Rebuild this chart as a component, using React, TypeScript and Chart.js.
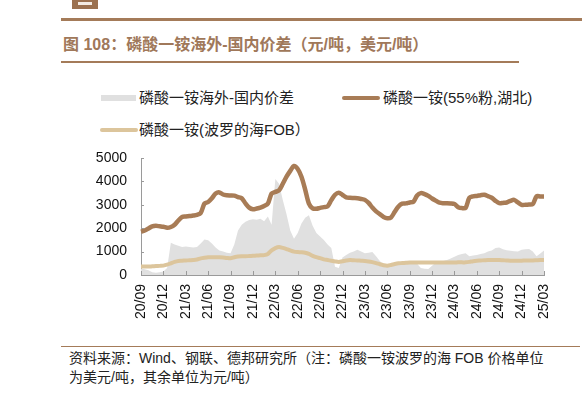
import React, { useEffect, useRef } from "react";
import { Chart, registerables } from "chart.js";

Chart.register(...registerables);

const months = [
  "20/09","20/10","20/11","20/12","21/01","21/02","21/03","21/04","21/05","21/06","21/07","21/08",
  "21/09","21/10","21/11","21/12","22/01","22/02","22/03","22/04","22/05","22/06","22/07","22/08",
  "22/09","22/10","22/11","22/12","23/01","23/02","23/03","23/04","23/05","23/06","23/07","23/08",
  "23/09","23/10","23/11","23/12","24/01","24/02","24/03","24/04","24/05","24/06","24/07","24/08",
  "24/09","24/10","24/11","24/12","25/01","25/02","25/03"
];

// 磷酸一铵(55%粉,湖北) 元/吨 (semi-monthly)
const domestic = [
  1850,1900,1990,2080,2100,2080,2060,2020,2050,2150,
  2330,2480,2500,2520,2540,2570,2650,3050,3120,3280,
  3480,3530,3440,3410,3400,3390,3330,3280,3060,2880,
  2810,2840,2880,2950,3050,3480,3550,3620,3900,4200,
  4450,4660,4530,4200,3650,3050,2850,2830,2870,2900,
  2930,3200,3430,3520,3420,3320,3300,3290,3280,3250,
  3210,3080,2880,2720,2600,2480,2430,2460,2700,2930,
  3050,3060,3100,3130,3400,3500,3460,3380,3270,3180,
  3090,3070,3070,3060,3030,2900,2860,2870,3300,3360,
  3380,3410,3430,3370,3300,3170,3070,3080,3100,3170,
  3210,3100,3000,3000,3010,3030,3360,3360,3360
];

// 磷酸一铵(波罗的海FOB) 美元/吨
const fob = [
  360,360,360,370,380,390,400,440,500,560,
  600,610,620,630,640,660,710,740,760,760,
  760,760,750,730,720,760,790,800,800,810,
  820,830,840,850,900,1050,1150,1200,1160,1110,
  1050,1000,980,970,950,900,820,760,720,670,
  640,610,580,560,590,620,640,630,620,610,
  600,580,550,510,460,420,400,430,470,500,
  510,520,530,530,530,530,530,530,530,530,
  530,530,530,530,530,540,540,540,560,590,
  610,620,630,640,640,640,640,630,620,610,
  610,610,610,620,620,620,630,640,640
];

// 磷酸一铵海外-国内价差 元/吨
const spread = [
  280,250,200,120,100,120,150,300,1380,1300,
  1250,1200,1220,1200,1180,1200,1350,1520,1480,1350,
  1180,1050,1000,950,930,1300,1900,2150,2280,2350,
  2380,2360,2400,2300,2500,2150,4100,3900,3200,2600,
  1900,1550,1800,2200,2450,2550,2100,1800,1650,1500,
  1300,1150,350,300,750,850,950,1000,1080,1000,
  930,950,980,800,600,450,420,450,500,560,
  570,570,560,540,480,300,270,260,400,520,
  560,600,640,700,780,850,900,930,800,830,
  860,900,930,1000,1050,1150,1180,1100,1060,1040,
  1020,1000,1080,1100,1110,1000,800,920,1050
];

const yTicks = [0, 1000, 2000, 3000, 4000, 5000];

const labels = months.flatMap((m, k) => (k < months.length - 1 ? [m, m] : [m]));

const BROWN = "#a87c56";
const TAN = "#dcc59c";
const GRAY = "#e0e0e0";
const AXIS = "#9a9a9a";
const TITLE = "#a0785a";
const FONT = '"Liberation Sans", Arial, "Noto Sans CJK SC", sans-serif';

const innerTicks = {
  id: "innerTicks",
  afterDraw(chart: any) {
    const { ctx, chartArea, scales } = chart;
    const x = scales.x;
    const y = scales.y;
    ctx.save();
    ctx.strokeStyle = AXIS;
    ctx.lineWidth = 1;
    yTicks.forEach((v) => {
      const py = Math.round(y.getPixelForValue(v)) + 0.5;
      ctx.beginPath();
      ctx.moveTo(chartArea.left, py);
      ctx.lineTo(chartArea.left + 3, py);
      ctx.stroke();
    });
    labels.forEach((_l, i) => {
      if (i % 6 !== 0) return;
      const px = Math.round(x.getPixelForValue(i)) + 0.5;
      ctx.beginPath();
      ctx.moveTo(px, chartArea.bottom);
      ctx.lineTo(px, chartArea.bottom - 4);
      ctx.stroke();
    });
    ctx.restore();
  },
};

const zeroPad = (s: any) => {
  s.paddingTop = 0;
  s.paddingBottom = 0;
  s.paddingLeft = 0;
  s.paddingRight = 0;
};

function ChartBox() {
  const ref = useRef<HTMLCanvasElement | null>(null);
  useEffect(() => {
    if (!ref.current) return;
    const chart = new Chart(ref.current, {
      type: "line",
      data: {
        labels,
        datasets: [
          {
            label: "磷酸一铵(55%粉,湖北)",
            data: domestic,
            borderColor: BROWN,
            borderWidth: 4.5,
            pointRadius: 0,
            tension: 0.3,
            fill: false,
            order: 1,
          },
          {
            label: "磷酸一铵(波罗的海FOB)",
            data: fob,
            borderColor: TAN,
            borderWidth: 4,
            pointRadius: 0,
            tension: 0.3,
            fill: false,
            order: 2,
          },
          {
            label: "磷酸一铵海外-国内价差",
            data: spread,
            borderWidth: 0,
            borderColor: GRAY,
            backgroundColor: GRAY,
            pointRadius: 0,
            tension: 0,
            fill: "origin",
            order: 3,
          },
        ],
      },
      options: {
        responsive: false,
        animation: false,
        events: [],
        layout: { padding: { top: 13, right: 16, left: 0, bottom: 0 } },
        plugins: { legend: { display: false }, tooltip: { enabled: false } },
        scales: {
          x: {
            type: "category",
            grid: { display: false, drawTicks: false },
            border: { display: true, color: AXIS, width: 1 },
            afterFit: (s: any) => {
              s.height = 60;
              zeroPad(s);
            },
            ticks: {
              autoSkip: false,
              maxRotation: 90,
              minRotation: 90,
              padding: 9,
              color: "#111",
              font: { family: FONT, size: 14 },
              callback: (_v: any, idx: number) => (idx % 6 === 0 ? labels[idx] : null),
            },
          },
          y: {
            min: 0,
            max: 5000,
            grid: { display: false, drawTicks: false },
            border: { display: true, color: AXIS, width: 1 },
            afterFit: (s: any) => {
              s.width = 51;
              zeroPad(s);
            },
            ticks: {
              stepSize: 1000,
              padding: 14,
              color: "#111",
              font: { family: FONT, size: 14 },
              callback: (v: any) => String(v),
            },
          },
        },
      },
      plugins: [innerTicks],
    });
    return () => chart.destroy();
  }, []);
  return (
    <canvas
      ref={ref}
      width={470}
      height={190}
      style={{ position: "absolute", left: 90, top: 145, width: 470, height: 190 }}
    />
  );
}

const legendText: React.CSSProperties = {
  position: "absolute",
  fontFamily: FONT,
  fontSize: 15,
  color: "#222",
  lineHeight: "18px",
  whiteSpace: "nowrap",
};

export default function App() {
  return (
    <div
      style={{
        position: "absolute",
        left: 0,
        top: 0,
        width: 582,
        height: 397,
        background: "#fff",
        overflow: "hidden",
        fontFamily: FONT,
      }}
    >
      {/* logo fragment */}
      <div style={{ position: "absolute", left: 72, top: 0, width: 26, height: 9, background: "#9b7150" }}>
        <div style={{ position: "absolute", left: 6, top: 2, width: 14, height: 3, background: "#f3ebe3" }} />
      </div>
      <div style={{ position: "absolute", left: 61, top: 18, width: 521, height: 3, background: "#a47b59" }} />
      <div
        style={{
          position: "absolute",
          left: 63,
          top: 35,
          fontSize: 16,
          fontWeight: "bold",
          color: TITLE,
          lineHeight: "20px",
          whiteSpace: "nowrap",
          fontFamily: FONT,
        }}
      >
        图 108：磷酸一铵海外-国内价差（元/吨，美元/吨）
      </div>
      <div style={{ position: "absolute", left: 61, top: 61, width: 458, height: 2, background: "#a47b59" }} />

      {/* legend */}
      <div style={{ position: "absolute", left: 101, top: 95, width: 35, height: 6, background: GRAY }} />
      <div style={{ ...legendText, left: 139, top: 89 }}>磷酸一铵海外-国内价差</div>
      <div style={{ position: "absolute", left: 342, top: 96, width: 38, height: 4, borderRadius: 2, background: BROWN }} />
      <div style={{ ...legendText, left: 383, top: 89 }}>磷酸一铵(55%粉,湖北)</div>
      <div style={{ position: "absolute", left: 100, top: 128, width: 38, height: 4, borderRadius: 2, background: TAN }} />
      <div style={{ ...legendText, left: 139, top: 121 }}>磷酸一铵(波罗的海FOB）</div>

      <ChartBox />

      {/* footer */}
      <div style={{ position: "absolute", left: 61, top: 346, width: 519, height: 1, background: "#a47b59" }} />
      <div
        style={{
          position: "absolute",
          left: 69,
          top: 349,
          width: 512,
          fontSize: 14,
          lineHeight: "19px",
          color: "#222",
          fontFamily: FONT,
        }}
      >
        资料来源：Wind、钢联、德邦研究所（注：磷酸一铵波罗的海 FOB 价格单位
        <br />
        为美元/吨，其余单位为元/吨）
      </div>
    </div>
  );
}
